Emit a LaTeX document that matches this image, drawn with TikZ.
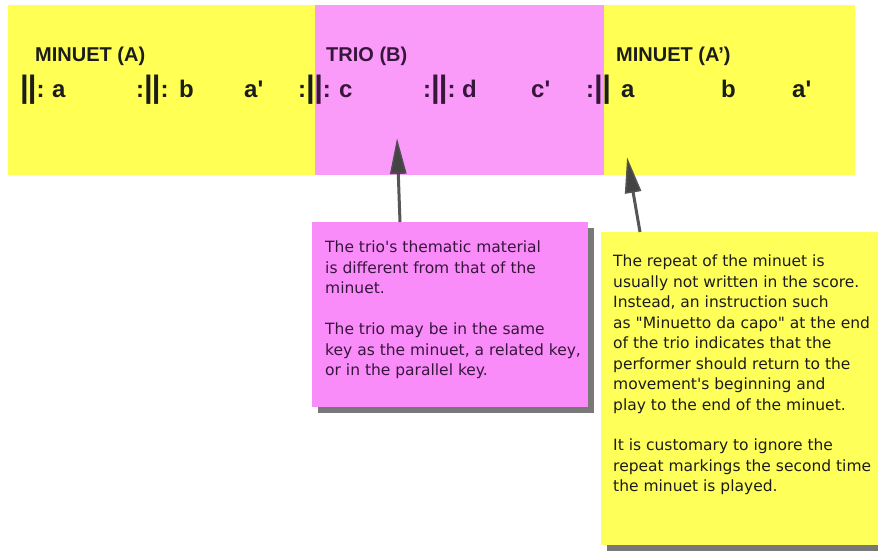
\documentclass[tikz,border=0pt]{standalone}
\usepackage{fontspec}
\setmainfont{Liberation Sans}
\newfontfamily\boxfont{DejaVu Sans}
\usetikzlibrary{arrows.meta,shadows,calc}
\definecolor{bandyellow}{RGB}{255,255,84}
\definecolor{bandpink}{RGB}{250,155,250}
\definecolor{boxpink}{RGB}{250,140,250}
\definecolor{boxyellow}{RGB}{255,255,90}
\definecolor{purpletext}{RGB}{55,22,60}
\definecolor{darktext}{RGB}{28,28,28}
\definecolor{arrowgray}{RGB}{68,68,68}
\newcommand\onebar{{\fontsize{31}{31}\selectfont|}}
\newcommand\barpair{\onebar\kern-1pt\onebar}
\begin{document}
\begin{tikzpicture}[x=1pt,y=-1pt,
  band/.style={draw=none,inner sep=0pt,anchor=north west},
  title/.style={font=\fontsize{20}{24}\selectfont\bfseries,anchor=base west,inner sep=0pt},
  seq/.style={font=\fontsize{24}{28}\selectfont\bfseries,anchor=base west,inner sep=0pt},
  note/.style={draw=none,inner sep=0pt,anchor=north west,
    drop shadow={shadow xshift=6pt,shadow yshift=-6pt,fill=black!70,opacity=.75}},
  notetext/.style={anchor=north west,inner sep=0pt,align=left,
    font=\boxfont\fontsize{15.5}{20.5}\selectfont},
  pointer/.style={line width=3pt,draw=arrowgray,draw opacity=.9,
    -{Triangle[length=36pt,width=16pt]}}
]
\useasboundingbox (0,0) rectangle (878,559);
\fill[white] (0,0) rectangle (878,559);
\clip (0,0) rectangle (878,559);
% bands
\node[band,fill=bandyellow,minimum width=307pt,minimum height=170pt] (bandA) at (8,5) {};
\node[band,fill=bandpink,minimum width=289pt,minimum height=170pt] (bandB) at (315,5) {};
\node[band,fill=bandyellow,minimum width=251pt,minimum height=170pt] (bandC) at (604,5) {};
% titles
\node[title,text=darktext] (tA) at (35,62) {MINUET (A)};
\node[title,text=purpletext] (tB) at (326,62) {TRIO (B)};
\node[title,text=darktext] (tC) at (616,62) {MINUET (A\textquoteright)};
% sequence row
\node[seq,text=darktext] (c1) at (20,98) {\barpair:};
\node[seq,text=darktext] (l1) at (52,98) {a};
\node[seq,text=darktext] (c2) at (136,98) {:\barpair:};
\node[seq,text=darktext] (l2) at (179,98) {b};
\node[seq,text=darktext] (l3) at (244,98) {a\textquotesingle};
\node[seq,text=darktext] (c3a) at (298,98) {:\onebar\kern-1pt};
\node[seq,text=purpletext,anchor=base west] (c3b) at (c3a.base east) {\onebar:};
\node[seq,text=purpletext] (l4) at (339,98) {c};
\node[seq,text=purpletext] (c4) at (423,98) {:\barpair:};
\node[seq,text=purpletext] (l5) at (462,98) {d};
\node[seq,text=purpletext] (l6) at (531,98) {c\textquotesingle};
\node[seq,text=purpletext] (c5a) at (586,98) {:\onebar\kern-1pt};
\node[seq,text=darktext,anchor=base west] (c5b) at (c5a.base east) {\onebar};
\node[seq,text=darktext] (l7) at (621,98) {a};
\node[seq,text=darktext] (l8) at (721,98) {b};
\node[seq,text=darktext] (l9) at (792,98) {a\textquotesingle};
% notes
\node[note,fill=boxpink,minimum width=276pt,minimum height=185pt] (pinkbox) at (312,222) {};
\node[note,fill=boxyellow,minimum width=300pt,minimum height=313pt] (yellowbox) at (601,232) {};
\node[notetext,text=purpletext] (pinktext) at (325,241) {The trio\textquotesingle s thematic material\\
is different from that of the\\
minuet.\\[20.5pt]
The trio may be in the same\\
key as the minuet, a related key,\\
or in the parallel key.};
\node[notetext,text=darktext] (yellowtext) at (613,255) {The repeat of the minuet is\\
usually not written in the score.\\
Instead, an instruction such\\
as "Minuetto da capo" at the end\\
of the trio indicates that the\\
performer should return to the\\
movement\textquotesingle s beginning and\\
play to the end of the minuet.\\[20pt]
It is customary to ignore the\\
repeat markings the second time\\
the minuet is played.};
% pointers
\coordinate (tip1) at (397,138);
\coordinate (tip2) at (627,157);
\draw[pointer] ($(pinkbox.north west)+(88,0)$) -- (tip1);
\draw[pointer] ($(yellowbox.north west)+(39,0)$) -- (tip2);
\end{tikzpicture}
\end{document}
